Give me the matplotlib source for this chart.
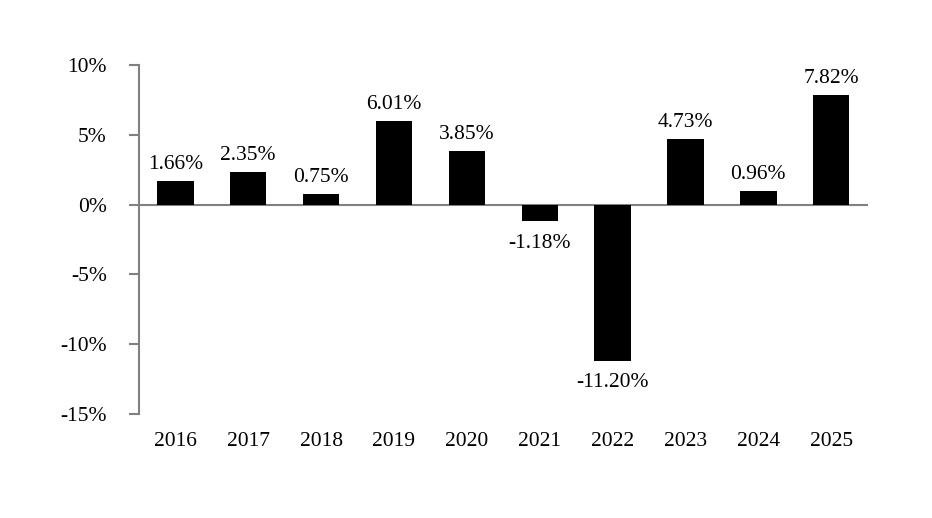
import numpy as np
import matplotlib.pyplot as plt

years = ["2016", "2017", "2018", "2019", "2020", "2021", "2022", "2023", "2024", "2025"]
returns = [1.66, 2.35, 0.75, 6.01, 3.85, -1.18, -11.20, 4.73, 0.96, 7.82]
yticks = [-15, -10, -5, 0, 5, 10]


def main():
    plt.rcParams['font.family'] = ['Liberation Serif', 'DejaVu Serif']
    fig = plt.figure(figsize=(9.32, 5.18), dpi=100)
    ax = fig.add_axes([0.149, 0.2008, 0.782, 0.6737])

    x = np.arange(len(years))
    ax.bar(x, returns, width=0.5, color="black", zorder=2)
    ax.axhline(0, color="#808080", linewidth=1.5, zorder=1)

    fs = 15.5
    for xi, v in zip(x, returns):
        if v >= 0:
            ax.annotate(f"{v:.2f}%", (xi, v), xytext=(0, 5), textcoords="offset points",
                        ha="center", va="bottom", fontsize=fs)
        else:
            ax.annotate(f"{v:.2f}%", (xi, v), xytext=(0, -9), textcoords="offset points",
                        ha="center", va="top", fontsize=fs)

    ax.set_xlim(-0.5, len(years) - 0.5)
    ax.set_ylim(-15, 10)
    ax.set_yticks(yticks)
    ax.set_yticklabels([f"{t}%" for t in yticks], fontsize=fs)
    ax.set_xticks(x)
    ax.set_xticklabels(years, fontsize=fs)
    ax.tick_params(axis="x", length=0, pad=13)
    ax.tick_params(axis="y", length=7, width=1.5, color="#808080", pad=16)

    for s in ["top", "right", "bottom"]:
        ax.spines[s].set_visible(False)
    ax.spines["left"].set_color("#808080")
    ax.spines["left"].set_linewidth(1.5)

    fig.savefig("out.png", dpi=100)


if __name__ == "__main__":
    main()
